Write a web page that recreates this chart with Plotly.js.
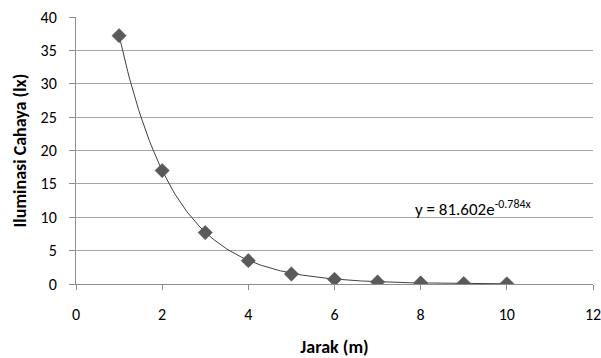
<!DOCTYPE html>
<html>
<head>
<meta charset="utf-8">
<script src="https://cdn.plot.ly/plotly-3.0.1.min.js"></script>
<style>
  html, body { margin: 0; padding: 0; background: #fff; }
  #chart { width: 601px; height: 358px; }
</style>
</head>
<body>
<div id="chart"></div>
<script>
// Measured illuminance at each distance from the lamp
const jarak = [1, 2, 3, 4, 5, 6, 7, 8, 9, 10];
const iluminasi = [37.2, 17.0, 7.7, 3.5, 1.5, 0.7, 0.3, 0.15, 0.07, 0.03];

// Exponential trendline y = a * e^(b x)
const fitA = 81.602;
const fitB = -0.784;
const fitStart = 1;
const fitEnd = 10;

const xTicks = [0, 2, 4, 6, 8, 10, 12];
const yTicks = [0, 5, 10, 15, 20, 25, 30, 35, 40];

// Sample the trendline densely so it renders as a smooth curve
const trendX = [];
const trendY = [];
for (let i = 0; i <= 180; i++) {
  const x = fitStart + (fitEnd - fitStart) * i / 180;
  trendX.push(x);
  trendY.push(fitA * Math.exp(fitB * x));
}

const font = "Carlito, Lato, 'Open Sans', sans-serif";

const traces = [
  {
    x: trendX, y: trendY, mode: 'lines', type: 'scatter',
    line: { color: '#404040', width: 1 },
    hoverinfo: 'skip', showlegend: false
  },
  {
    x: jarak, y: iluminasi, mode: 'markers', type: 'scatter',
    marker: { symbol: 'diamond', size: 11, color: '#5a5a5a',
              line: { color: '#4a4a4a', width: 0.5 } },
    showlegend: false
  }
];

const layout = {
  width: 601, height: 358,
  margin: { l: 76, r: 8, t: 17, b: 74 },
  paper_bgcolor: '#fff', plot_bgcolor: '#fff',
  font: { family: font, size: 16, color: '#000' },
  xaxis: {
    range: [0, 12], tickvals: xTicks, ticktext: xTicks.map(String),
    showgrid: false, zeroline: false,
    showline: true, linecolor: '#8c8c8c', linewidth: 1,
    ticks: 'outside', ticklen: 5, tickcolor: '#8c8c8c',
    ticklabelstandoff: 11,
    ticklabeloverflow: 'allow',
    tickfont: { size: 16 },
    title: { text: '<b>Jarak (m)</b>', font: { size: 18 }, standoff: 17 }
  },
  yaxis: {
    range: [0, 40], tickvals: yTicks, ticktext: yTicks.map(String),
    showgrid: true, gridcolor: '#a6a6a6', gridwidth: 1,
    zeroline: false,
    showline: true, linecolor: '#8c8c8c', linewidth: 1,
    ticks: 'outside', ticklen: 6, tickcolor: '#8c8c8c',
    ticklabelstandoff: 9,
    tickfont: { size: 16 },
    title: { text: '<b>Iluminasi Cahaya (lx)</b>', font: { size: 18 }, standoff: 9 }
  },
  annotations: [{
    xref: 'paper', yref: 'paper',
    x: 0.651, y: 0.283, xanchor: 'left', yanchor: 'middle',
    text: 'y = ' + fitA.toFixed(3) + 'e<sup>' + fitB.toFixed(3) + 'x</sup>',
    showarrow: false, font: { size: 17, color: '#000' }
  }]
};

Plotly.newPlot('chart', traces, layout, { displayModeBar: false, staticPlot: true });
</script>
</body>
</html>
